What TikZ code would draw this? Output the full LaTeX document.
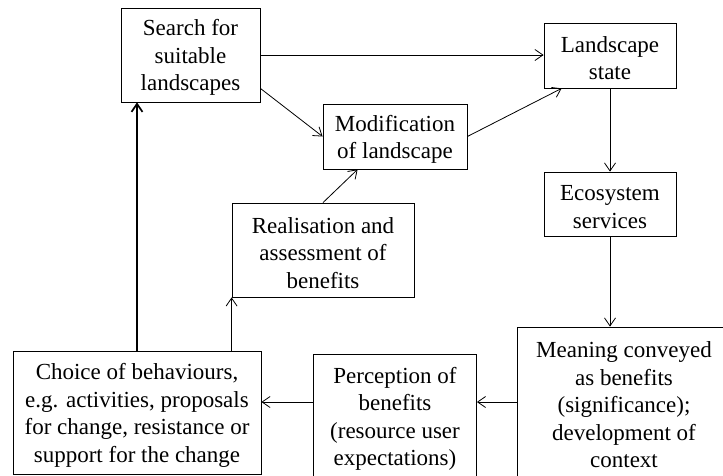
\documentclass[tikz,border=0pt]{standalone}
\usepackage{fontspec}
\setmainfont{Liberation Serif}
\usetikzlibrary{arrows.meta,calc}
\newcommand{\topstrut}{\rule{0pt}{21.5pt}}
\begin{document}
\begin{tikzpicture}[x=1pt,y=-1pt,
  box/.style={draw,line width=0.8pt,inner sep=0pt,align=center,
    font=\fontsize{23}{27.5}\selectfont},
  conn/.style={line width=0.8pt,-{Straight Barb[length=8pt,width=11pt,line width=0.8pt]}},
  thick conn/.style={line width=1.7pt,-{Straight Barb[length=8pt,width=11pt,line width=1.7pt]}}]
\useasboundingbox (0,0) rectangle (723,475);
\clip (0,0) rectangle (723,475);
\node[box,minimum width=139pt,minimum height=94pt] (search) at (190.5,55) {\topstrut Search for\\suitable\\landscapes};
\node[box,minimum width=132pt,minimum height=65pt] (land) at (610,55.5) {\topstrut Landscape\\state};
\node[box,minimum width=144pt,minimum height=65pt] (mod) at (395,136.5) {\topstrut Modification\\of landscape};
\node[box,minimum width=132pt,minimum height=64pt] (eco) at (610,204) {\topstrut Ecosystem\\services};
\node[box,minimum width=182pt,minimum height=94pt] (real) at (323,250) {\topstrut Realisation and\\assessment of\\benefits};
\node[box,minimum width=248pt,minimum height=123pt] (choice) at (137,412.5) {\topstrut Choice of behaviours,\\e.g. activities, proposals\\for change, resistance or\\support for the change};
\node[box,minimum width=163pt,minimum height=124pt] (percep) at (395,416) {\topstrut Perception of\\benefits\\(resource user\\expectations)};
\node[box,minimum width=214pt,minimum height=150pt] (mean) at (624,402) {\topstrut Meaning conveyed\\as benefits\\(significance);\\development of\\context};
\draw[conn] (search.east) -- (land.west |- search.east);
\draw[conn] ($(search.south east)+(0,-14)$) -- (mod.west);
\draw[conn] (mod.east) -- ($(land.south west)+(18,0)$);
\draw[conn] (land.south) -- (eco.north);
\draw[conn] (eco.south) -- (eco.south |- mean.north);
\draw[conn] (mean.west) -- (percep.east |- mean.west);
\draw[conn] (percep.west |- mean.west) -- (choice.east |- mean.west);
\draw[thick conn] (choice.north) -- (choice.north |- search.south);
\draw[conn] (real.south west |- choice.north) -- (real.south west);
\draw[conn] (real.north) -- ($(mod.south west)+(35,0)$);
\end{tikzpicture}
\end{document}
